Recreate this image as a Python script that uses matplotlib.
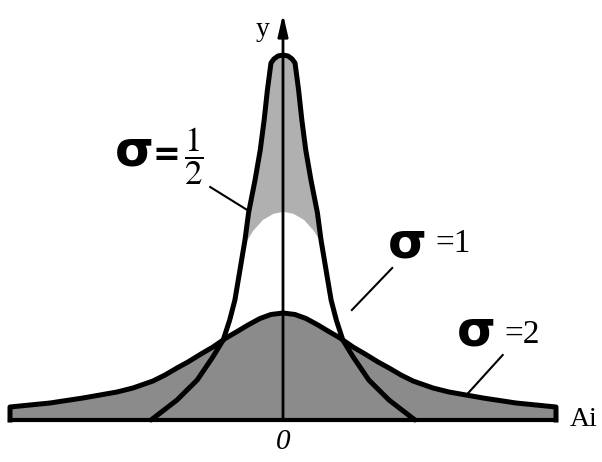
import numpy as np
import matplotlib
matplotlib.use("Agg")
import matplotlib.pyplot as plt
from matplotlib.patches import Polygon

plt.rcParams['mathtext.fontset'] = 'stix'

# half-profiles (x from centre, height above baseline)
# sigma = 1/2 : tall narrow peak
x_half = [0, 0.077, 0.14, 0.185, 0.24, 0.29, 0.35, 0.43, 0.53, 0.585, 0.67, 0.74, 0.82, 0.92, 1.08, 1.32, 1.63, 2.03]
y_half = [3.65, 3.64, 3.61, 3.57, 3.30, 3.00, 2.70, 2.40, 2.07, 1.80, 1.47, 1.20, 1.00, 0.80, 0.63, 0.40, 0.20, 0.0]
# sigma = 1 : hidden (white) curve
x_one = [0, 0.15, 0.31, 0.46, 0.62, 0.77, 0.92, 1.23, 1.54, 2.0]
y_one = [2.08, 2.06, 2.00, 1.89, 1.72, 1.50, 1.28, 0.90, 0.60, 0.30]
# sigma = 2 : broad low curve
x_two = [0, 0.185, 0.354, 0.538, 0.692, 0.877, 1.077, 1.262, 1.462, 1.631, 1.815, 2.0, 2.308, 2.554, 3.077, 3.585, 4.2]
y_two = [1.07, 1.055, 1.015, 0.95, 0.89, 0.82, 0.73, 0.66, 0.58, 0.52, 0.45, 0.39, 0.32, 0.28, 0.22, 0.17, 0.13]


def mirror(xs, ys):
    xs = np.array(xs)
    ys = np.array(ys)
    return np.concatenate([-xs[::-1], xs[1:]]), np.concatenate([ys[::-1], ys[1:]])


xa, ya = mirror(x_half, y_half)
xb, yb = mirror(x_one, y_one)
xc, yc = mirror(x_two, y_two)

fig = plt.figure(figsize=(6.02, 4.62), dpi=100)
ax = fig.add_axes([0, 0, 1, 1])
ax.set_xlim(-283 / 65, 319 / 65)
ax.set_ylim(-0.42, 4.20)
ax.axis('off')

light = '#b0b0b0'
dark = '#8b8b8b'

# tall curve, light grey
poly = Polygon(np.column_stack([xa, ya]), closed=True, facecolor=light, edgecolor='none', zorder=1)
ax.add_patch(poly)
# sigma=1 filled white, only visible inside tall curve
wf = ax.fill_between(xb, 0, yb, color='white', zorder=2)
wf.set_clip_path(poly)
# sigma=2 dark grey
ax.fill_between(xc, 0, yc, color=dark, zorder=3)

# outlines
ax.plot(xa, ya, color='black', lw=3.6, zorder=5, solid_capstyle='round', solid_joinstyle='round')
xc_out = np.concatenate([[xc[0]], xc, [xc[-1]]])
yc_out = np.concatenate([[0], yc, [0]])
ax.plot(xc_out, yc_out, color='black', lw=3.6, zorder=5, solid_joinstyle='round')
ax.plot([xc[0], xc[-1]], [0, 0], color='black', lw=3.0, zorder=6)

# y axis with arrow
ax.annotate('', xy=(0, 4.06), xytext=(0, 0), zorder=6,
            arrowprops=dict(arrowstyle='-|>,head_length=1.3,head_width=0.3', color='black', lw=2.0,
                            shrinkA=0, shrinkB=0))

serif = 'Liberation Serif'
ax.text(-0.32, 3.90, 'y', fontsize=20, family=serif, ha='center', va='center')
ax.text(4.63, 0.0, 'Ai', fontsize=20, family=serif, ha='center', va='center')
ax.text(0, -0.22, '0', fontsize=21, family=serif, style='italic', ha='center', va='center')

# labels
sig = dict(fontsize=36, fontweight='bold', family='DejaVu Sans', ha='center', va='center')
ax.text(-2.28, 2.69, 'σ', **sig)
ax.text(-1.79, 2.64, '=', fontsize=24, fontweight='bold', family='DejaVu Sans', ha='center', va='center')
ax.text(-1.38, 2.64, r'$\dfrac{1}{2}$', fontsize=25, ha='center', va='center')
ax.plot([-1.12, -0.55], [2.33, 2.10], color='black', lw=1.5, zorder=6)

ax.text(1.91, 1.76, 'σ', **sig)
ax.text(2.62, 1.76, '=1', fontsize=24, family=serif, ha='center', va='center')
ax.plot([1.68, 1.06], [1.52, 1.10], color='black', lw=1.5, zorder=6)

ax.text(2.97, 0.88, 'σ', **sig)
ax.text(3.68, 0.85, '=2', fontsize=24, family=serif, ha='center', va='center')
ax.plot([3.38, 2.85], [0.65, 0.27], color='black', lw=1.5, zorder=6)

fig.savefig('out.png', dpi=100)
